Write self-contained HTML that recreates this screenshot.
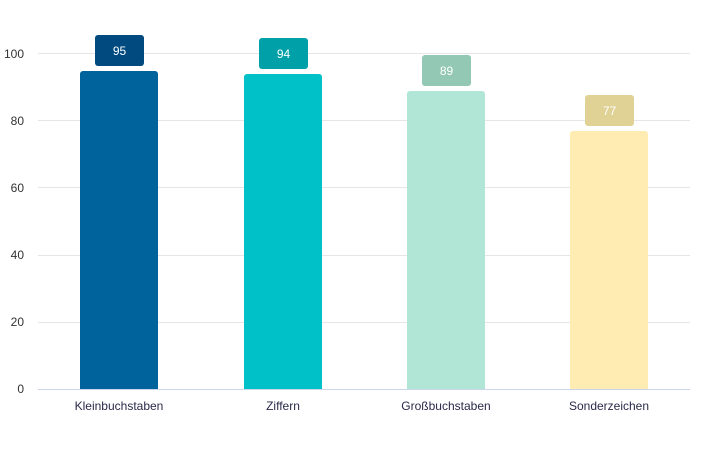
<!DOCTYPE html>
<html><head><style>body{margin:0;background:#fff}</style></head><body>
<svg width="707" height="444" xmlns="http://www.w3.org/2000/svg" font-family="Liberation Sans, sans-serif">
<g stroke="#e6e6e6" stroke-width="1">
<line x1="38" x2="690" y1="53.5" y2="53.5"/><line x1="38" x2="690" y1="120.5" y2="120.5"/>
<line x1="38" x2="690" y1="187.5" y2="187.5"/><line x1="38" x2="690" y1="255.5" y2="255.5"/>
<line x1="38" x2="690" y1="322.5" y2="322.5"/></g>
<g>
<rect x="80" y="71" width="78" height="330" rx="3" fill="#00639c"/>
<rect x="244" y="74" width="78" height="330" rx="3" fill="#00c1c8"/>
<rect x="407" y="91" width="78" height="330" rx="3" fill="#b1e5d6"/>
<rect x="570" y="131" width="78" height="330" rx="3" fill="#ffecb3"/>
<rect x="0" y="390" width="707" height="54" fill="#fff"/>
<line x1="38" x2="690" y1="389.5" y2="389.5" stroke="#ccd6eb"/>
</g>
<g font-size="12" fill="#333" text-anchor="end">
<text x="24" y="58">100</text><text x="24" y="125">80</text><text x="24" y="192">60</text>
<text x="24" y="259">40</text><text x="24" y="326">20</text><text x="24" y="393">0</text></g>
<g font-size="12" fill="#fff" text-anchor="middle">
<rect x="95" y="35" width="49" height="31" rx="3" fill="#004a80"/><text x="119.5" y="55">95</text>
<rect x="259" y="38" width="49" height="31" rx="3" fill="#00a0a8"/><text x="283.5" y="58">94</text>
<rect x="422" y="55" width="49" height="31" rx="3" fill="#93c8b4"/><text x="446.5" y="75">89</text>
<rect x="585" y="95" width="49" height="31" rx="3" fill="#e0d194"/><text x="609.5" y="115">77</text>
</g>
<g font-size="12" fill="#2a2a4a" text-anchor="middle">
<text x="119" y="410">Kleinbuchstaben</text><text x="283" y="410">Ziffern</text>
<text x="446" y="410">Großbuchstaben</text><text x="609" y="410">Sonderzeichen</text></g>
</svg>
</body></html>
